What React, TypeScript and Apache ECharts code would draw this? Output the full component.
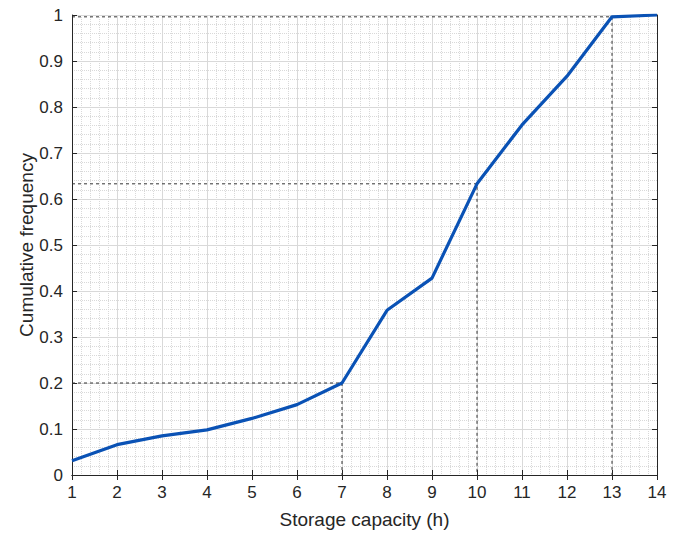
import React, { useEffect, useRef } from "react";
import * as echarts from "echarts";

// Storage capacity (h) vs cumulative frequency
const capacity = [1, 2, 3, 4, 5, 6, 7, 8, 9, 10, 11, 12, 13, 14];
const cumFreq = [0.031, 0.066, 0.085, 0.098, 0.123, 0.153, 0.2, 0.358, 0.428, 0.633, 0.761, 0.867, 0.996, 1.0];

// Guide lines marking selected capacities
const guideCapacities = [7, 10, 13];
const guideFreqs = [0.2, 0.633, 0.996];

const FONT = "'Liberation Sans', Arial, Helvetica, sans-serif";
const AXIS_COLOR = "#262626";

export default function App() {
  const ref = useRef<HTMLDivElement>(null);

  useEffect(() => {
    if (!ref.current) return;
    const chart = echarts.init(ref.current, undefined, { renderer: "svg" });

    const boxAxis = {
      axisLine: { show: true, lineStyle: { color: AXIS_COLOR, width: 1 } },
      axisTick: { show: true, inside: true, length: 5, lineStyle: { color: AXIS_COLOR } },
      axisLabel: { show: false },
      splitLine: { show: false },
    };

    const guideSeries = guideCapacities.map((c, i) => ({
      type: "line",
      data: [
        [capacity[0], guideFreqs[i]],
        [c, guideFreqs[i]],
        [c, 0],
      ],
      symbol: "none",
      silent: true,
      lineStyle: { color: "#333", width: 1, type: [3, 3] },
      z: 3,
    }));

    chart.setOption({
      animation: false,
      backgroundColor: "#ffffff",
      grid: { left: 72, top: 15, right: 27, bottom: 58.5, containLabel: false },
      xAxis: [
        {
          type: "value",
          position: "bottom",
          min: 1,
          max: 14,
          interval: 1,
          name: "Storage capacity (h)",
          nameLocation: "middle",
          nameGap: 35,
          nameMoveOverlap: false,
          nameTextStyle: { fontFamily: FONT, fontSize: 19, color: AXIS_COLOR },
          axisLine: { show: true, lineStyle: { color: AXIS_COLOR, width: 1 } },
          axisTick: { show: true, inside: true, length: 5, lineStyle: { color: AXIS_COLOR } },
          axisLabel: { fontFamily: FONT, fontSize: 17, color: AXIS_COLOR, margin: 9 },
          splitLine: { show: true, lineStyle: { color: "#d9d9d9", width: 1 } },
          minorTick: { show: false, splitNumber: 5 },
          minorSplitLine: { show: true, lineStyle: { color: "#d9d9d9", width: 1, type: [1, 1] } },
        },
        { ...boxAxis, type: "value", position: "top", min: 1, max: 14, interval: 1 },
      ],
      yAxis: [
        {
          type: "value",
          position: "left",
          min: 0,
          max: 1,
          interval: 0.1,
          name: "Cumulative frequency",
          nameLocation: "middle",
          nameGap: 36,
          nameMoveOverlap: false,
          nameTextStyle: { fontFamily: FONT, fontSize: 19, color: AXIS_COLOR },
          axisLine: { show: true, lineStyle: { color: AXIS_COLOR, width: 1 } },
          axisTick: { show: true, inside: true, length: 5, lineStyle: { color: AXIS_COLOR } },
          axisLabel: { fontFamily: FONT, fontSize: 17, color: AXIS_COLOR, margin: 9 },
          splitLine: { show: true, lineStyle: { color: "#d9d9d9", width: 1 } },
          minorTick: { show: false, splitNumber: 5 },
          minorSplitLine: { show: true, lineStyle: { color: "#d9d9d9", width: 1, type: [1, 1] } },
        },
        { ...boxAxis, type: "value", position: "right", min: 0, max: 1, interval: 0.1 },
      ],
      series: [
        ...guideSeries,
        {
          type: "line",
          data: capacity.map((c, i) => [c, cumFreq[i]]),
          symbol: "none",
          lineStyle: { color: "#0a52b5", width: 3.2 },
          z: 5,
        },
      ],
    });

    return () => chart.dispose();
  }, []);

  return (
    <div
      ref={ref}
      style={{ position: "fixed", left: 0, top: 0, width: 684, height: 534, background: "#fff" }}
    />
  );
}
